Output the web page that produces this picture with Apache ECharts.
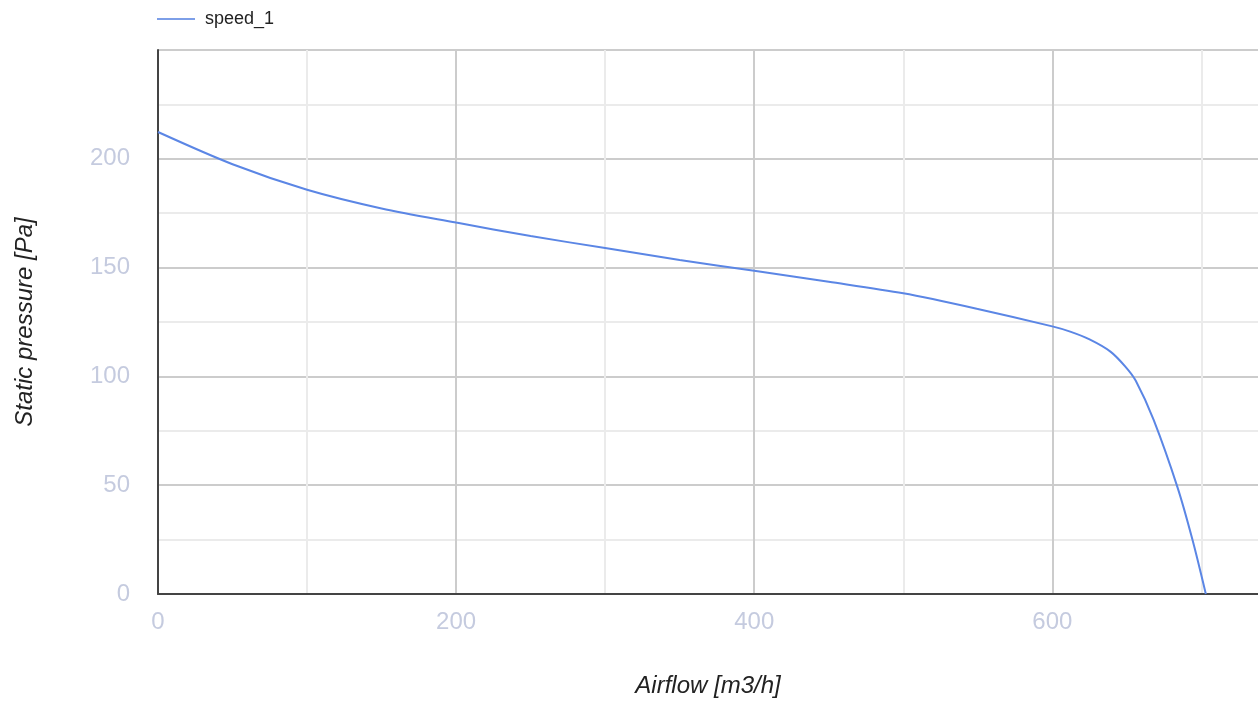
<!DOCTYPE html>
<html>
<head>
<meta charset="utf-8">
<script src="https://cdn.jsdelivr.net/npm/echarts@6/dist/echarts.min.js"></script>
<style>
  html, body { margin: 0; padding: 0; background: #fff; }
  #chart { width: 1258px; height: 706px; }
</style>
</head>
<body>
<div id="chart"></div>
<script>
// fan curve
const seriesName = 'speed_1';
const airflow = [0, 50, 100, 150, 200, 250, 300, 350, 400, 450, 500, 550, 600, 612, 625, 639, 649, 656, 668, 684, 694, 703];
const pressure = [212.3, 197.5, 185.8, 177.2, 170.7, 164.5, 159, 153.5, 148.5, 143.5, 138.2, 131, 123, 120.6, 117, 111.4, 104.5, 98, 80, 49, 25, 0];

const gridMajor = '#cccccc';
const gridMinor = '#ebebeb';
const labelColor = '#c5cbdf';

echarts.init(document.getElementById('chart')).setOption({
  animation: false,
  textStyle: {fontFamily: 'Liberation Sans, Arial, sans-serif'},
  legend: {
    left: 152,
    top: 5,
    itemWidth: 38,
    itemHeight: 2,
    icon: 'rect',
    textStyle: {fontSize: 18, color: '#222', padding: [0, 0, 0, 5]},
    data: [seriesName]
  },
  grid: {left: 158, right: 0, top: 50, bottom: 112, outerBoundsMode: 'none'},
  xAxis: {
    type: 'value',
    min: 0,
    max: 738,
    interval: 100,
    name: 'Airflow [m3/h]',
    nameLocation: 'center',
    nameGap: 80,
    nameTextStyle: {fontSize: 24, fontStyle: 'italic', color: '#222'},
    axisLine: {lineStyle: {color: '#444', width: 2}},
    axisTick: {show: false},
    axisLabel: {
      fontSize: 24, color: labelColor, margin: 16, showMaxLabel: false,
      formatter: v => (v % 200 === 0 ? v : '')
    },
    splitLine: {lineStyle: {
      color: [gridMajor, gridMinor, gridMajor, gridMinor, gridMajor, gridMinor, gridMajor, gridMinor, 'rgba(0,0,0,0)'],
      width: 2
    }}
  },
  yAxis: {
    type: 'value',
    min: 0,
    max: 250,
    interval: 25,
    name: 'Static pressure [Pa]',
    nameLocation: 'center',
    nameGap: 121,
    nameTextStyle: {fontSize: 24, fontStyle: 'italic', color: '#222'},
    axisLine: {show: true, lineStyle: {color: '#444', width: 2}},
    axisTick: {show: false},
    axisLabel: {
      fontSize: 24, color: labelColor, margin: 28,
      formatter: v => (v % 50 === 0 && v < 250 ? v : '')
    },
    splitLine: {lineStyle: {color: [gridMajor, gridMinor], width: 2}}
  },
  series: [{
    name: seriesName,
    type: 'line',
    smooth: 0.3,
    showSymbol: false,
    lineStyle: {width: 2, color: '#5b86e5'},
    itemStyle: {color: '#7d9fe8'},
    data: airflow.map((v, i) => [v, pressure[i]])
  }]
});
</script>
</body>
</html>
